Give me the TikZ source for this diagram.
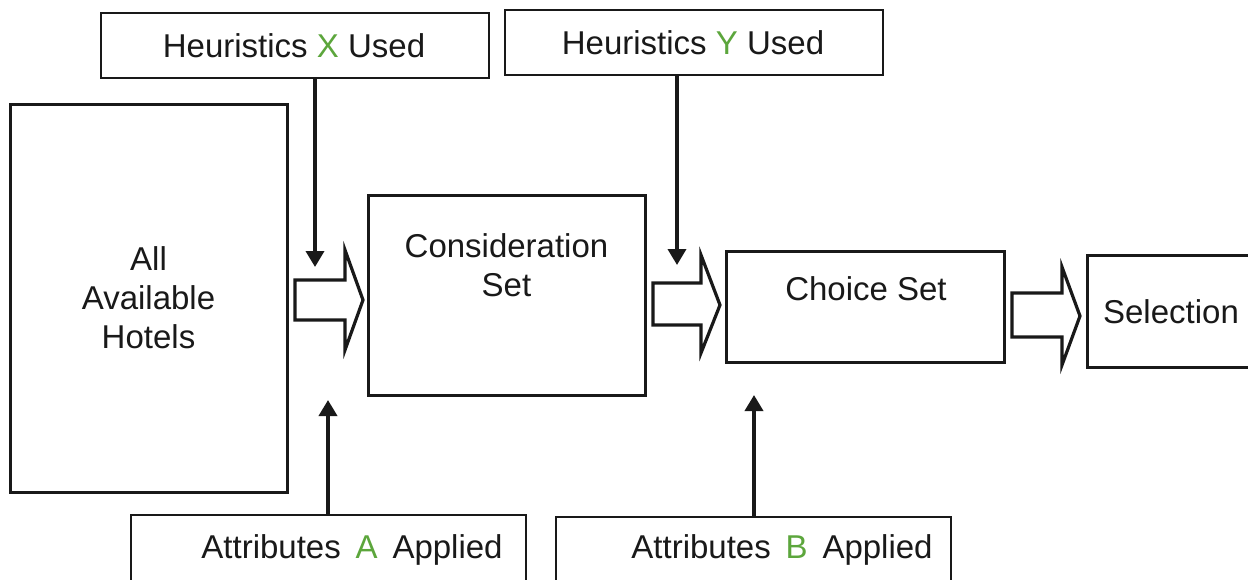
\documentclass[tikz,border=0pt]{standalone}
\usepackage{fontspec}
\setmainfont{Liberation Sans}
\usetikzlibrary{arrows.meta}
\definecolor{labelgreen}{RGB}{92,166,60}
\definecolor{ink}{RGB}{25,25,25}
\begin{document}
\begin{tikzpicture}[x=0.5pt,y=-0.5pt,
  font=\fontsize{16.5}{19.5}\selectfont,
  box/.style={draw=ink,line width=1.5pt,fill=white,inner sep=0pt},
  tagbox/.style={draw=ink,line width=1pt,fill=white,inner sep=0pt},
  txt/.style={align=center,inner sep=0pt,text=ink},
  feed/.style={draw=ink,line width=1.8pt,-{Triangle[length=8pt,width=9pt]}},
  blockarrow/.style={draw=ink,line width=1.6pt,fill=white,miter limit=10}]
\useasboundingbox (0,0) rectangle (1248,579);
\clip (0,0) rectangle (1248,579);

% stage boxes
\node[box,minimum width=277pt*0.5,minimum height=388pt*0.5] (all) at (148.5,298) {};
\node[txt] (allt) at (148.5,298) {All\\Available\\Hotels};

\node[box,minimum width=277pt*0.5,minimum height=200pt*0.5] (cons) at (506.5,295) {};
\node[txt] (const) at (506.5,265.5) {Consideration\\Set};

\node[box,minimum width=278pt*0.5,minimum height=111pt*0.5] (choice) at (865,306.5) {};
\node[txt] (choicet) at (866,289) {Choice Set};

\node[box,minimum width=200pt*0.5,minimum height=112pt*0.5] (sel) at (1187,311) {};
\node[txt] (selt) at (1171,312) {Selection};

% heuristics and attributes boxes
\node[tagbox,minimum width=388pt*0.5,minimum height=65pt*0.5] (hx) at (295,45.5) {};
\node[txt] (hxt) at (294,46) {Heuristics \textcolor{labelgreen}{X} Used};

\node[tagbox,minimum width=378pt*0.5,minimum height=65pt*0.5] (hy) at (694,42.5) {};
\node[txt] (hyt) at (693,43) {Heuristics \textcolor{labelgreen}{Y} Used};

\node[tagbox,minimum width=395pt*0.5,minimum height=105pt*0.5] (aa) at (328.5,567.5) {};
\node[txt] (aat) at (352,550) {Attributes\hspace{0.45em}\textcolor{labelgreen}{A}\hspace{0.45em}Applied};

\node[tagbox,minimum width=395pt*0.5,minimum height=104pt*0.5] (ab) at (753.5,569) {};
\node[txt] (abt) at (782,550) {Attributes\hspace{0.45em}\textcolor{labelgreen}{B}\hspace{0.45em}Applied};

% arrow tips of the feeding arrows
\coordinate (hxtip) at (315,267);
\coordinate (hytip) at (677,265);
\coordinate (aatip) at (328,400);
\coordinate (abtip) at (754,395);

\draw[feed] (hx.south -| hxtip) -- (hxtip);
\draw[feed] (hy.south -| hytip) -- (hytip);
\draw[feed] (aa.north -| aatip) -- (aatip);
\draw[feed] (ab.north -| abtip) -- (abtip);

% block arrows between stages
\draw[blockarrow] (295,280) -- (345,280) -- (345,250) -- (363,300) -- (345,350) -- (345,320) -- (295,320) -- cycle;
\draw[blockarrow] (653,283) -- (701,283) -- (701,255) -- (720,305) -- (701,353) -- (701,325) -- (653,325) -- cycle;
\draw[blockarrow] (1012,293) -- (1062,293) -- (1062,267) -- (1080,316) -- (1062,365) -- (1062,337) -- (1012,337) -- cycle;
\end{tikzpicture}
\end{document}
